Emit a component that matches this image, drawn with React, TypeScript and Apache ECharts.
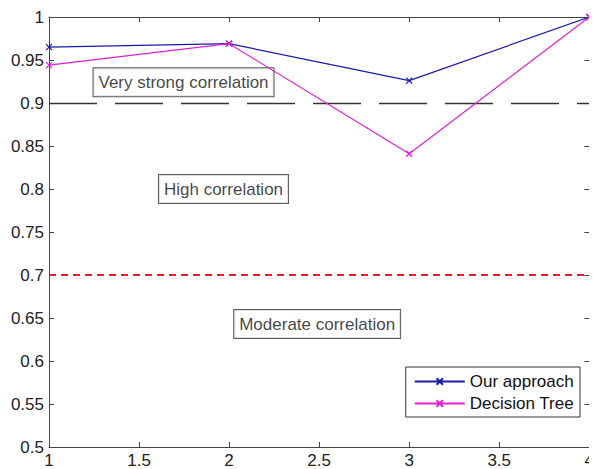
import React, { useEffect, useRef } from "react";
import * as echarts from "echarts";

const xValues = [1, 2, 3, 4];
const ourApproach = [0.965, 0.969, 0.926, 1.0];
const decisionTree = [0.944, 0.969, 0.841, 1.0];
const thresholds = [
  { value: 0.9, name: "very strong" },
  { value: 0.7, name: "high" },
];
const annotations = [
  { x: 1.747, y: 0.924, text: "Very strong correlation" },
  { x: 1.969, y: 0.8, text: "High correlation" },
  { x: 2.489, y: 0.643, text: "Moderate correlation" },
];

const CROSS = "path://M0,0L10,10M10,0L0,10";
const FONT = "Liberation Sans, Arial, sans-serif";

export default function App() {
  const ref = useRef<HTMLDivElement>(null);
  useEffect(() => {
    if (!ref.current) return;
    const chart = echarts.init(ref.current, undefined, { renderer: "svg" });
    const axisCommon = {
      axisLine: { show: true, lineStyle: { color: "#444", width: 1 } },
      axisTick: { show: true, inside: true, length: 5, lineStyle: { color: "#444" } },
      splitLine: { show: false },
    };
    chart.setOption({
      animation: false,
      backgroundColor: "#fff",
      textStyle: { fontFamily: FONT },
      grid: { left: 49, right: 6, top: 17, bottom: 21, containLabel: false },
      legend: {
        orient: "vertical",
        right: 17,
        bottom: 52,
        data: ["Our approach", "Decision Tree"],
        backgroundColor: "#fff",
        borderColor: "#333",
        borderWidth: 1,
        borderRadius: 0,
        padding: [6, 6, 5, 8],
        itemGap: 5,
        itemWidth: 50,
        itemHeight: 8,
        textStyle: { fontSize: 17, color: "#111", fontFamily: FONT },
      },
      xAxis: [
        {
          type: "value",
          min: 1,
          max: 4,
          interval: 0.5,
          position: "bottom",
          ...axisCommon,
          axisLabel: { fontSize: 17, color: "#222", margin: 5, fontFamily: FONT },
        },
        {
          type: "value",
          min: 1,
          max: 4,
          interval: 0.5,
          position: "top",
          ...axisCommon,
          axisLabel: { show: false },
        },
      ],
      yAxis: [
        {
          type: "value",
          min: 0.5,
          max: 1,
          interval: 0.05,
          position: "left",
          ...axisCommon,
          axisLabel: { fontSize: 17, color: "#222", margin: 5, fontFamily: FONT },
        },
        {
          type: "value",
          min: 0.5,
          max: 1,
          interval: 0.05,
          position: "right",
          ...axisCommon,
          axisLabel: { show: false },
        },
      ],
      series: [
        {
          name: "Our approach",
          type: "line",
          data: xValues.map((x, i) => [x, ourApproach[i]]),
          symbol: CROSS,
          symbolSize: 6,
          showAllSymbol: true,
          lineStyle: { color: "#1a1aa8", width: 1.2 },
          itemStyle: { color: "#1a1aa8", borderColor: "#1a1aa8", borderWidth: 1.3 },
          z: 4,
        },
        {
          name: "Decision Tree",
          type: "line",
          data: xValues.map((x, i) => [x, decisionTree[i]]),
          symbol: CROSS,
          symbolSize: 6,
          lineStyle: { color: "#e020d0", width: 1.2 },
          itemStyle: { color: "#e020d0", borderColor: "#e020d0", borderWidth: 1.3 },
          z: 5,
        },
        {
          name: "thresholds",
          type: "line",
          data: [],
          silent: true,
          markLine: {
            silent: true,
            symbol: "none",
            label: { show: false },
            data: [
              {
                yAxis: thresholds[0].value,
                lineStyle: { color: "#333", width: 1.3, type: [48, 18], opacity: 1 },
              },
              {
                yAxis: thresholds[1].value,
                lineStyle: { color: "#f0182c", width: 2, type: [7, 5], opacity: 1 },
              },
            ],
          },
          z: 2,
        },
        {
          name: "annotations",
          type: "scatter",
          symbolSize: 0,
          silent: true,
          data: annotations.map((a) => ({ value: [a.x, a.y], name: a.text })),
          label: {
            show: true,
            position: "inside",
            formatter: (p: any) => p.name,
            fontSize: 17,
            color: "#111",
            fontFamily: FONT,
            backgroundColor: "#fff",
            borderColor: "#333",
            borderWidth: 1,
            padding: [6, 5, 5, 5],
          },
          z: 3,
        },
      ],
    });
    return () => chart.dispose();
  }, []);
  return <div ref={ref} style={{ width: 597, height: 469, marginLeft: -8, marginTop: -8 }} />;
}
